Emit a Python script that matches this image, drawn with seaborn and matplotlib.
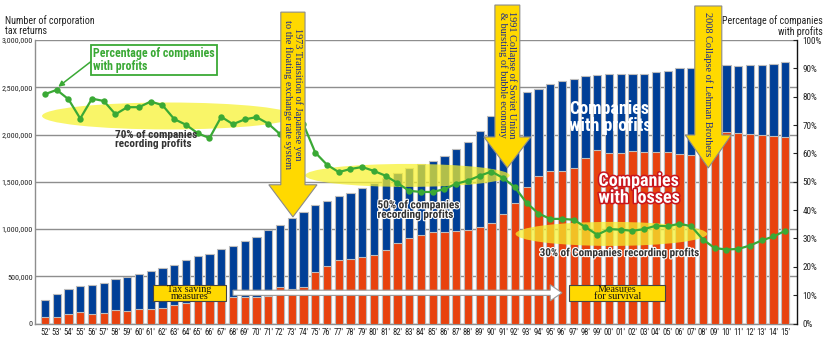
import numpy as np
import pandas as pd
import matplotlib
matplotlib.use("Agg")
import matplotlib.pyplot as plt
import seaborn as sns
from matplotlib import font_manager as fm
from matplotlib.patches import Ellipse, Polygon, Rectangle, FancyArrow
import matplotlib.patheffects as pe
from matplotlib.ticker import FuncFormatter, MultipleLocator

# ---------------- data ----------------
years = list(range(1952, 2016))
year_labels = [f"{y % 100:02d}'" for y in years]

# number of corporation tax returns (thousands)
total_returns = [250, 310, 363, 401, 405, 433, 468, 489, 521, 560,
                 588, 616, 673, 715, 732, 785, 817, 877, 919, 986,
                 1046, 1120, 1181, 1251, 1297, 1353, 1385, 1436, 1484, 1537,
                 1590, 1643, 1688, 1723, 1773, 1847, 1924, 2037, 2195, 2300,
                 2400, 2445, 2478, 2531, 2562, 2590, 2618, 2632, 2643, 2643,
                 2643, 2643, 2657, 2675, 2707, 2707, 2720, 2738, 2731, 2728,
                 2731, 2738, 2749, 2763]
# companies with losses (thousands)
loss_returns = [67, 67, 102, 123, 99, 116, 141, 134, 151, 151,
                165, 197, 222, 245, 250, 255, 278, 280, 285, 296,
                384, 365, 385, 540, 607, 670, 681, 702, 730, 779,
                850, 902, 934, 966, 969, 977, 987, 1019, 1065, 1163,
                1276, 1448, 1561, 1617, 1617, 1643, 1752, 1833, 1804, 1804,
                1822, 1819, 1811, 1811, 1790, 1787, 1930, 1998, 2023, 2016,
                2009, 1998, 1981, 1970]
# percentage of companies with profits
profit_pct = [80.9, 82.4, 79.1, 72.3, 79.3, 78.5, 73.8, 76.3, 76.3, 78.3,
              77.0, 72.1, 70.1, 67.1, 65.4, 72.9, 70.3, 72.0, 72.8, 70.5,
              66.8, 71.0, 70.2, 60.3, 56.0, 53.4, 54.5, 55.2, 53.8, 52.1,
              49.5, 46.8, 46.4, 46.4, 47.4, 49.3, 50.4, 52.1, 53.6, 51.3,
              48.0, 42.5, 38.8, 36.9, 36.9, 36.6, 34.0, 31.3, 33.3, 33.1,
              32.7, 33.3, 34.5, 34.3, 35.2, 34.3, 29.6, 26.6, 26.1, 26.3,
              27.5, 29.3, 30.7, 32.7]

# ---------------- style ----------------
BLUE = "#003f97"
ORANGE = "#e8420e"
GREEN = "#3aa935"
YELLOW = "#f7f22e"
ARROW_Y = "#ffd900"
NAVY = "#1b2a8c"

names = {f.name for f in fm.fontManager.ttflist}
NARROW = None
for cand in ["Liberation Sans Narrow", "Roboto Condensed", "Open Sans Condensed",
             "Arial Narrow", "Nimbus Sans Narrow", "Open Sans Condensed Bold"]:
    if cand in names:
        NARROW = cand
        break
condensed_dejavu = any(("DejaVu" in f.name and "ondensed" in f.fname) for f in fm.fontManager.ttflist)
SERIF = "Liberation Serif" if "Liberation Serif" in names else "DejaVu Serif"

sns.set_style("white")
if NARROW:
    plt.rcParams["font.family"] = [NARROW, "DejaVu Sans"]
    K = 1.0
else:
    plt.rcParams["font.family"] = ["DejaVu Sans"]
    plt.rcParams["font.stretch"] = "condensed"
    K = 0.9 if condensed_dejavu else 0.8

W, H = 827, 344
fig = plt.figure(figsize=(W / 100, H / 100), dpi=100)
ax = fig.add_axes([35 / W, 1 - 323.5 / H, (797 - 35) / W, (323.5 - 40) / H])

df = pd.DataFrame({"year": year_labels, "total": total_returns, "loss": loss_returns})
sns.barplot(data=df, x="year", y="total", color=BLUE, saturation=1, width=0.72,
            edgecolor="#bdbdbd", linewidth=0.8, ax=ax, zorder=2)
sns.barplot(data=df, x="year", y="loss", color=ORANGE, saturation=1, width=0.72,
            edgecolor="#bdbdbd", linewidth=0.8, ax=ax, zorder=3)

ax.set_ylim(0, 3000)
ax.yaxis.set_major_locator(MultipleLocator(500))
ax.yaxis.set_major_formatter(FuncFormatter(lambda v, p: f"{int(round(v * 1000)):,}"))
ax.yaxis.grid(True, color="#8e8e8e", linewidth=1.0)
ax.xaxis.grid(False)
ax.set_axisbelow(True)
ax.set_xlabel("")
ax.set_ylabel("")
for s in ["top", "right"]:
    ax.spines[s].set_visible(False)
for s in ["left", "bottom"]:
    ax.spines[s].set_color("#8e8e8e")
    ax.spines[s].set_linewidth(1.0)
ax.tick_params(axis="y", labelsize=5.8 * K, length=0, pad=1.5, labelcolor="#222222")
ax.tick_params(axis="x", labelsize=6.2 * K, length=0, pad=3, labelcolor="#222222")

# yellow highlight ellipses
for (cx, cy, w, h) in [(10.5, 2196, 21.5, 285), (30.85, 1567, 17.4, 243), (48.2, 948, 16.3, 254)]:
    ax.add_patch(Ellipse((cx, cy), w, h, facecolor=YELLOW, edgecolor="none", alpha=0.72, zorder=6))

# ---------------- profit share line ----------------
ax2 = ax.twinx()
sns.lineplot(x=np.arange(len(years)), y=profit_pct, ax=ax2, color=GREEN, marker="o",
             markersize=4.6, markeredgewidth=0, linewidth=1.6, zorder=5)
ax2.set_ylabel("")
ax2.yaxis.set_major_locator(MultipleLocator(10))
ax2.yaxis.set_major_formatter(FuncFormatter(lambda v, p: f"{int(v)}%"))
for s in ["top", "left", "bottom"]:
    ax2.spines[s].set_visible(False)
ax2.spines["right"].set_color("#111111")
ax2.spines["right"].set_linewidth(1.0)
ax2.tick_params(axis="y", labelsize=6.6 * K, length=3, direction="in", pad=4, labelcolor="#222222")

T = ax.transData

# text annotations
ax2.text(4.1, 2790, "Percentage of companies\nwith profits", transform=T, color=GREEN,
         fontsize=8.6 * K, fontweight="bold", ha="left", va="center", linespacing=0.95, zorder=12,
         bbox=dict(boxstyle="square,pad=0.2", fc="white", ec=GREEN, lw=1.3))
ax2.annotate("", xy=(1.13, 2505), xytext=(4.1, 2790), xycoords=T, textcoords=T,
             arrowprops=dict(arrowstyle="-|>", color=GREEN, lw=1.1, mutation_scale=8,
                             shrinkA=0, shrinkB=0), zorder=11)

ax2.text(5.95, 1945, "70% of companies\nrecording profits", transform=T, color="#333333",
         fontsize=8.1 * K, fontweight="bold", ha="left", va="center", linespacing=0.95, zorder=12)
halo = [pe.withStroke(linewidth=1.6, foreground="white")]
ax2.text(28.3, 1200, "50% of companies\nrecording profits", transform=T, color="#333333",
         fontsize=8.1 * K, fontweight="bold", ha="left", va="center", linespacing=0.95, zorder=12,
         path_effects=halo)
ax2.text(42.1, 745, "30% of Companies recording profits", transform=T, color="#333333",
         fontsize=8.0 * K, fontweight="bold", ha="left", va="center", zorder=12, path_effects=halo)
ax2.text(44.6, 2180, "Companies\nwith profits", transform=T, color="white",
         fontsize=13 * K, fontweight="bold", ha="left", va="center", linespacing=0.92, zorder=12)
ax2.text(47.1, 1420, "Companies\nwith losses", transform=T, color="white",
         fontsize=13 * K, fontweight="bold", ha="left", va="center", linespacing=0.92, zorder=12,
         path_effects=[pe.withStroke(linewidth=2.2, foreground="#c8161d")])

# white arrow for measures
ax2.add_patch(FancyArrow(16.0, 325, 27.0, 0, width=55, head_width=170, head_length=1.0,
                         length_includes_head=False, fc="white", ec="#9a9a9a", lw=0.8,
                         transform=T, zorder=9))
for (x0, x1, label) in [(9.2, 15.4, "Tax saving\nmeasures"), (44.6, 52.8, "Measures\nfor survival")]:
    ax2.add_patch(Rectangle((x0, 238), x1 - x0, 170, fc=ARROW_Y, ec="#444444", lw=0.8,
                            transform=T, zorder=10))
    ax2.text((x0 + x1) / 2, 323, label, transform=T, family=[SERIF], fontstretch="normal",
             fontsize=7.3, color="#111111", ha="center", va="center", linespacing=0.8, zorder=11)

# yellow event arrows
def down_arrow(cx, top, tip, hs, hh, hl):
    pts = [(cx - hs, top), (cx + hs, top), (cx + hs, tip + hl), (cx + hh, tip + hl),
           (cx, tip), (cx - hh, tip + hl), (cx - hs, tip + hl)]
    ax2.add_patch(Polygon(pts, closed=True, fc=ARROW_Y, ec="#8a8a8a", lw=0.8,
                          transform=T, clip_on=False, zorder=13))

events = [
    (21.1, 3295, 1128, 1.03, 2.05, 340, 3215, "1973 Transition of Japanese yen\nto the floating exchange rate system"),
    (39.35, 3370, 1646, 1.06, 2.0, 328, 3310, "1991 Collapse of Soviet Union\n& bursting of bubble economy"),
    (56.45, 3360, 1646, 1.15, 1.96, 349, 3300, "2008 Collapse of Lehman Brothers"),
]
for cx, top, tip, hs, hh, hl, ty, label in events:
    down_arrow(cx, top, tip, hs, hh, hl)
    ax2.text(cx, ty, label, transform=T, family=[SERIF], fontstretch="normal", fontsize=7.4,
             color=NAVY, rotation=270, ha="center", va="top", linespacing=0.95, zorder=14,
             clip_on=False)

ax.set_xlim(-0.85, 64.0)
ax2.set_xlim(-0.85, 64.0)
ax2.set_ylim(0, 100)

# axis titles
fig.text(5 / W, 1 - 15 / H, "Number of corporation\ntax returns", ha="left", va="top",
         fontsize=7.2 * K, color="#222222", linespacing=1.0)
fig.text(823 / W, 1 - 15 / H, "Percentage of companies\nwith profits", ha="right", va="top",
         fontsize=7.2 * K, color="#222222", linespacing=1.0)

fig.savefig("out.png", dpi=100)
